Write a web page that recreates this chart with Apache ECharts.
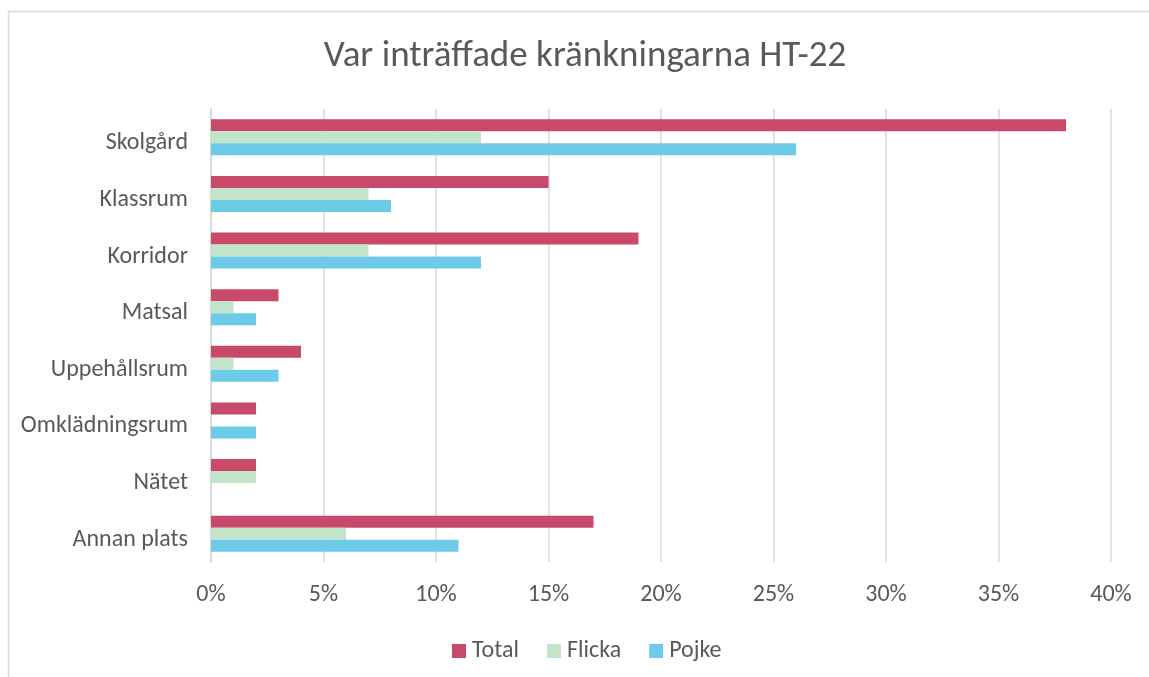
<!DOCTYPE html>
<html>
<head>
<meta charset="utf-8">
<script src="https://cdn.jsdelivr.net/npm/echarts@6/dist/echarts.min.js"></script>
<style>
  html, body { margin: 0; padding: 0; background: #fff; }
  #chart { width: 1149px; height: 677px; }
</style>
</head>
<body>
<div id="chart"></div>
<script>
const categories = ['Skolgård', 'Klassrum', 'Korridor', 'Matsal', 'Uppehållsrum', 'Omklädningsrum', 'Nätet', 'Annan plats']
const totalValues = [38, 15, 19, 3, 4, 2, 2, 17]
const flickaValues = [12, 7, 7, 1, 1, 0, 2, 6]
const pojkeValues = [26, 8, 12, 2, 3, 2, 0, 11]
const seriesNames = ['Total', 'Flicka', 'Pojke']
const seriesColors = ['#C9496B', '#C2E4C8', '#6CCBE6']

const font = 'Carlito, Calibri, "Open Sans", sans-serif'
const textColor = '#595959'

const makeSeries = (name, values, color) => {
    return {
        name: name,
        type: 'bar',
        data: values,
        barWidth: 12,
        barGap: '0%',
        itemStyle: { color: color },
        emphasis: { disabled: true }
    }
}

let chart = echarts.init(document.getElementById('chart'))

let option = {
    animation: false,
    title: {
        text: 'Var inträffade kränkningarna HT-22',
        left: 580,
        textAlign: 'center',
        top: 33,
        textStyle: { fontFamily: font, fontSize: 37, fontWeight: 'normal', color: textColor }
    },
    graphic: [
        {
            type: 'rect',
            shape: { x: 8.5, y: 11.5, width: 1200, height: 700 },
            style: { fill: 'none', stroke: '#D9D9D9', lineWidth: 1.5 },
            silent: true
        }
    ],
    legend: {
        data: seriesNames,
        bottom: 9,
        left: 447,
        itemWidth: 14,
        itemHeight: 14,
        itemGap: 28,
        icon: 'rect',
        textStyle: { fontFamily: font, fontSize: 24, color: textColor, padding: [0, 0, 0, 1] }
    },
    grid: { left: 211, right: 38, top: 109, bottom: 115, containLabel: false },
    xAxis: {
        type: 'value',
        min: 0,
        max: 40,
        interval: 5,
        axisLine: { show: false },
        axisTick: { show: false },
        axisLabel: { formatter: '{value}%', margin: 21, fontFamily: font, fontSize: 24, color: textColor },
        splitLine: { lineStyle: { color: '#D9D9D9', width: 1.5 } }
    },
    yAxis: {
        type: 'category',
        data: categories,
        inverse: true,
        axisLine: { lineStyle: { color: '#D9D9D9', width: 2 } },
        axisTick: { show: false },
        axisLabel: {
            margin: 23,
            verticalAlign: 'top',
            lineHeight: 12,
            fontFamily: font,
            fontSize: 24,
            color: textColor
        }
    },
    series: [
        makeSeries(seriesNames[0], totalValues, seriesColors[0]),
        makeSeries(seriesNames[1], flickaValues, seriesColors[1]),
        makeSeries(seriesNames[2], pojkeValues, seriesColors[2])
    ]
}

chart.setOption(option)
</script>
</body>
</html>
